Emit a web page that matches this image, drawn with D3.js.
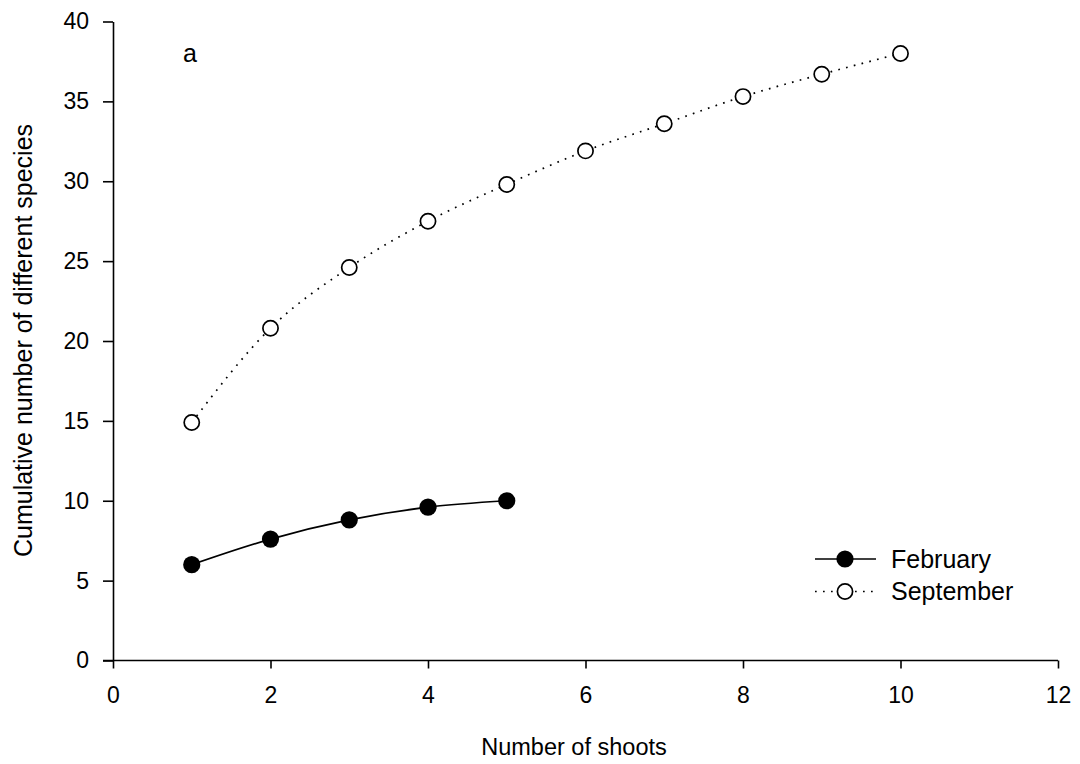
<!DOCTYPE html>
<html>
<head>
<meta charset="utf-8">
<script src="https://cdn.jsdelivr.net/npm/d3@7"></script>
<style>
  body { margin: 0; background: #fff; }
  text { font-family: "Liberation Sans", Arial, sans-serif; fill: #000; }
</style>
</head>
<body>
<svg id="chart" width="1080" height="764"></svg>
<script>
// values
var shoots = [1, 2, 3, 4, 5, 6, 7, 8, 9, 10];
var february = [6.0, 7.6, 8.8, 9.6, 10.0];
var september = [14.9, 20.8, 24.6, 27.5, 29.8, 31.9, 33.6, 35.3, 36.7, 38.0];
var xTicks = [0, 2, 4, 6, 8, 10, 12];
var yTicks = [0, 5, 10, 15, 20, 25, 30, 35, 40];

var svg = d3.select("#chart");
var plotLeft = 113, plotRight = 1058, plotTop = 21.5, plotBottom = 660.5;

var x = d3.scaleLinear().domain([0, 12]).range([plotLeft, plotRight]);
var y = d3.scaleLinear().domain([0, 40]).range([plotBottom, plotTop]);

// axes
var xAxis = svg.append("g")
    .attr("transform", "translate(0," + plotBottom + ")")
    .call(d3.axisBottom(x).tickValues(xTicks).tickSize(8).tickPadding(18).tickSizeOuter(0));
var yAxis = svg.append("g")
    .attr("transform", "translate(" + plotLeft + ",0)")
    .call(d3.axisLeft(y).tickValues(yTicks).tickSize(10).tickPadding(14).tickSizeOuter(0));

[xAxis, yAxis].forEach(function (g) {
    g.select(".domain").attr("stroke", "#000").attr("stroke-width", 1.6);
    g.selectAll(".tick line").attr("stroke", "#000").attr("stroke-width", 1.6);
    g.selectAll(".tick text").style("font-size", "23px").attr("fill", "#000");
});
// extend x domain to the y axis
xAxis.select(".domain").attr("d", "M" + (plotLeft - 10) + ",0H" + plotRight);

// axis titles
svg.append("text")
    .attr("x", 574)
    .attr("y", 755)
    .attr("text-anchor", "middle")
    .style("font-size", "23.5px")
    .text("Number of shoots");
svg.append("text")
    .attr("transform", "translate(32,340.5) rotate(-90)")
    .attr("text-anchor", "middle")
    .style("font-size", "25px")
    .text("Cumulative number of different species");

svg.append("text")
    .attr("x", 190)
    .attr("y", 62)
    .attr("text-anchor", "middle")
    .style("font-size", "25px")
    .text("a");

var line = d3.line()
    .x(function (d, i) { return x(shoots[i]); })
    .y(function (d) { return y(d); })
    .curve(d3.curveMonotoneX);

// September
svg.append("path")
    .datum(september)
    .attr("d", line)
    .attr("fill", "none")
    .attr("stroke", "#000")
    .attr("stroke-width", 1.7)
    .attr("stroke-dasharray", "1.7,6.3");
svg.selectAll(".sep")
    .data(september)
    .enter().append("circle")
    .attr("cx", function (d, i) { return x(shoots[i]); })
    .attr("cy", function (d) { return y(d); })
    .attr("r", 7.6)
    .attr("fill", "#fff")
    .attr("stroke", "#000")
    .attr("stroke-width", 1.7);

// February
svg.append("path")
    .datum(february)
    .attr("d", line)
    .attr("fill", "none")
    .attr("stroke", "#000")
    .attr("stroke-width", 1.7);
svg.selectAll(".feb")
    .data(february)
    .enter().append("circle")
    .attr("cx", function (d, i) { return x(shoots[i]); })
    .attr("cy", function (d) { return y(d); })
    .attr("r", 8.6)
    .attr("fill", "#000");

// legend
var legend = [
    { name: "February", y: 559, dash: null, fill: "#000", r: 8.6 },
    { name: "September", y: 591.5, dash: "1.7,6.3", fill: "#fff", r: 7.6 }
];
legend.forEach(function (d) {
    svg.append("line")
        .attr("x1", 815).attr("x2", 876)
        .attr("y1", d.y).attr("y2", d.y)
        .attr("stroke", "#000")
        .attr("stroke-width", 1.7)
        .attr("stroke-dasharray", d.dash);
    svg.append("circle")
        .attr("cx", 845).attr("cy", d.y)
        .attr("r", d.r)
        .attr("fill", d.fill)
        .attr("stroke", "#000")
        .attr("stroke-width", d.fill === "#000" ? 0 : 1.7);
    svg.append("text")
        .attr("x", 891)
        .attr("y", d.y + 8.5)
        .style("font-size", "25px")
        .text(d.name);
});
</script>
</body>
</html>
